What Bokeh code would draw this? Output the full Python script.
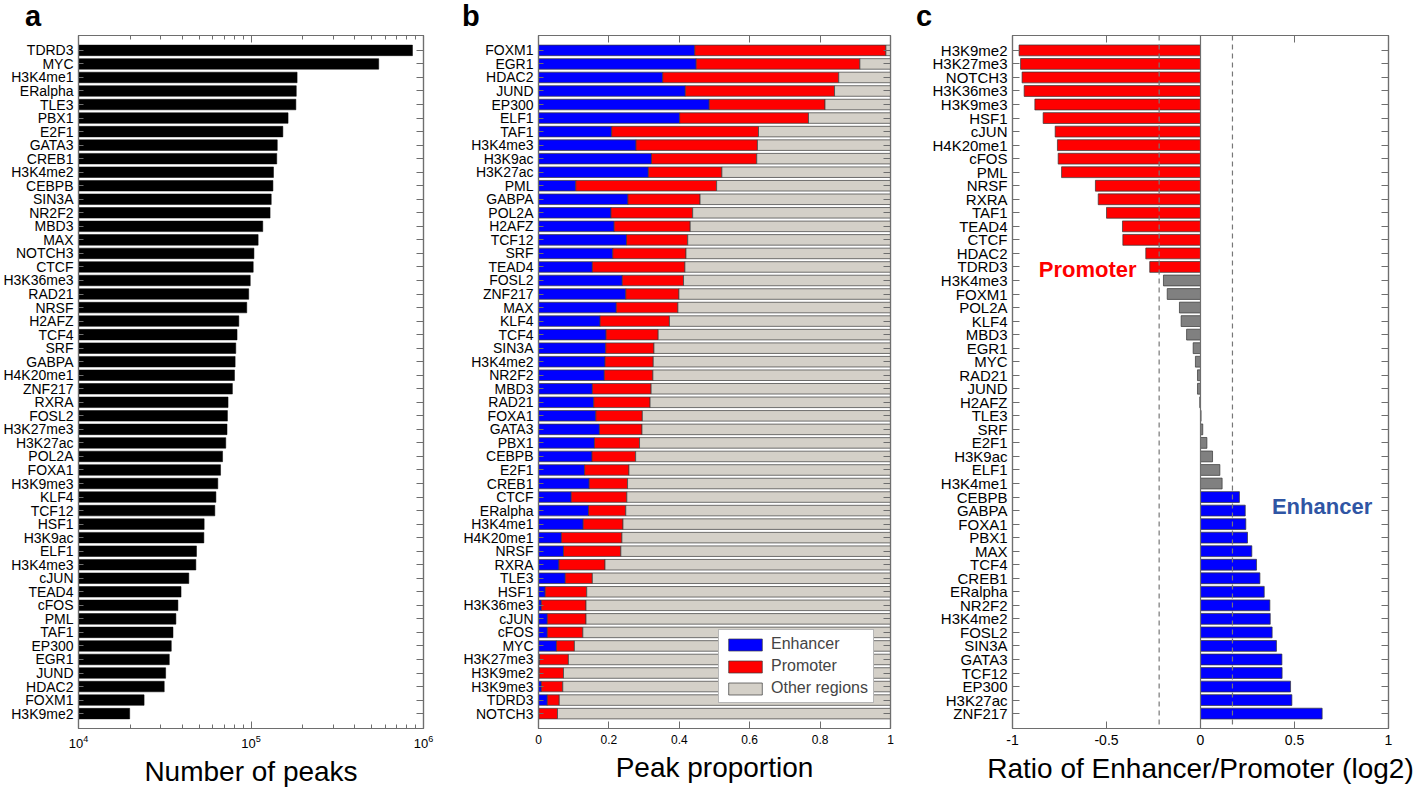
from bokeh.plotting import figure
from bokeh.layouts import row, column
from bokeh.models import (FactorRange, Range1d, FixedTicker, LogAxis, LinearAxis, Div,
                          CategoricalAxis, CustomJSTickFormatter, Span, ColumnDataSource)
from bokeh.core.properties import value
from bokeh.embed import file_html
from bokeh.resources import INLINE

FONT = "Liberation Sans"
FRAME = "#6e6e6e"

# ---------------- Panel a: number of peaks ----------------
names_a = ["TDRD3", "MYC", "H3K4me1", "ERalpha", "TLE3", "PBX1", "E2F1", "GATA3", "CREB1",
           "H3K4me2", "CEBPB", "SIN3A", "NR2F2", "MBD3", "MAX", "NOTCH3", "CTCF", "H3K36me3",
           "RAD21", "NRSF", "H2AFZ", "TCF4", "SRF", "GABPA", "H4K20me1", "ZNF217", "RXRA",
           "FOSL2", "H3K27me3", "H3K27ac", "POL2A", "FOXA1", "H3K9me3", "KLF4", "TCF12", "HSF1",
           "H3K9ac", "ELF1", "H3K4me3", "cJUN", "TEAD4", "cFOS", "PML", "TAF1", "EP300", "EGR1",
           "JUND", "HDAC2", "FOXM1", "H3K9me2"]
peaks_a = [863000, 550000, 185000, 183000, 182000, 164000, 153000, 142000, 141000,
           135000, 134000, 131000, 129000, 117000, 110000, 104000, 103000, 99000,
           97000, 94500, 85000, 83000, 81600, 80900, 80200, 78000, 73600,
           73000, 72600, 71400, 68400, 66600, 64200, 62600, 61700, 53500,
           53300, 48300, 47900, 43600, 39300, 37700, 36700, 35300, 34500, 33600,
           32000, 31400, 24000, 19800]
ticks_a = [1e4, 1e5, 1e6]

# ---------------- Panel b: peak proportion ----------------
names_b = ["FOXM1", "EGR1", "HDAC2", "JUND", "EP300", "ELF1", "TAF1", "H3K4me3", "H3K9ac",
           "H3K27ac", "PML", "GABPA", "POL2A", "H2AFZ", "TCF12", "SRF", "TEAD4", "FOSL2",
           "ZNF217", "MAX", "KLF4", "TCF4", "SIN3A", "H3K4me2", "NR2F2", "MBD3", "RAD21",
           "FOXA1", "GATA3", "PBX1", "CEBPB", "E2F1", "CREB1", "CTCF", "ERalpha", "H3K4me1",
           "H4K20me1", "NRSF", "RXRA", "TLE3", "HSF1", "H3K36me3", "cJUN", "cFOS", "MYC",
           "H3K27me3", "H3K9me2", "H3K9me3", "TDRD3", "NOTCH3"]
enhancer_b = [0.444, 0.448, 0.353, 0.417, 0.485, 0.401, 0.208, 0.277, 0.321,
              0.312, 0.106, 0.254, 0.206, 0.215, 0.250, 0.211, 0.153, 0.238,
              0.248, 0.221, 0.175, 0.192, 0.191, 0.189, 0.187, 0.153, 0.157,
              0.163, 0.173, 0.159, 0.152, 0.131, 0.144, 0.093, 0.142, 0.127,
              0.065, 0.071, 0.058, 0.076, 0.019, 0.008, 0.025, 0.025, 0.051,
              0.003, 0.002, 0.008, 0.025, 0.001]
promoter_b = [0.543, 0.465, 0.500, 0.424, 0.329, 0.366, 0.417, 0.345, 0.299,
              0.209, 0.400, 0.205, 0.232, 0.216, 0.174, 0.208, 0.263, 0.174,
              0.151, 0.175, 0.197, 0.148, 0.137, 0.137, 0.138, 0.167, 0.160,
              0.132, 0.121, 0.128, 0.124, 0.126, 0.109, 0.158, 0.106, 0.113,
              0.172, 0.163, 0.131, 0.077, 0.118, 0.127, 0.110, 0.101, 0.051,
              0.082, 0.069, 0.061, 0.034, 0.053]
legend_b = ["Enhancer", "Promoter", "Other regions"]
ticks_b = [0, 0.2, 0.4, 0.6, 0.8, 1]

# ---------------- Panel c: log2 ratio ----------------
names_c = ["H3K9me2", "H3K27me3", "NOTCH3", "H3K36me3", "H3K9me3", "HSF1", "cJUN", "H4K20me1",
           "cFOS", "PML", "NRSF", "RXRA", "TAF1", "TEAD4", "CTCF", "HDAC2", "TDRD3", "H3K4me3",
           "FOXM1", "POL2A", "KLF4", "MBD3", "EGR1", "MYC", "RAD21", "JUND", "H2AFZ", "TLE3",
           "SRF", "E2F1", "H3K9ac", "ELF1", "H3K4me1", "CEBPB", "GABPA", "FOXA1", "PBX1", "MAX",
           "TCF4", "CREB1", "ERalpha", "NR2F2", "H3K4me2", "FOSL2", "SIN3A", "GATA3", "TCF12",
           "EP300", "H3K27ac", "ZNF217"]
ratio_c = [-0.965, -0.957, -0.949, -0.938, -0.881, -0.837, -0.773, -0.761,
           -0.757, -0.739, -0.559, -0.544, -0.500, -0.415, -0.413, -0.291, -0.270, -0.197,
           -0.177, -0.112, -0.103, -0.074, -0.039, -0.027, -0.016, -0.016, -0.004, 0.003,
           0.012, 0.034, 0.064, 0.103, 0.115, 0.207, 0.238, 0.241, 0.250, 0.273,
           0.298, 0.316, 0.339, 0.369, 0.371, 0.381, 0.404, 0.433, 0.434,
           0.479, 0.486, 0.647]
thresholds_c = [-0.22, 0.17]
ticks_c = [-1, -0.5, 0, 0.5, 1]

panel_letters = ["a", "b", "c"]

PAD = 0.6          # category padding (units)
HEAD = 34          # strip above the figures holding the panel letters
H, TOP, BOTTOM = 796 - HEAD, 1, 68


def hide_labels(ax):
    ax.major_label_text_font_size = "0px"
    ax.major_label_text_color = None
    ax.major_label_standoff = 0


def style_axis(ax, tick_in=7):
    ax.axis_line_color = FRAME
    ax.axis_line_width = 1.2
    ax.major_tick_line_color = FRAME
    ax.minor_tick_line_color = FRAME
    ax.major_tick_in = tick_in
    ax.major_tick_out = 0
    ax.minor_tick_in = 4
    ax.minor_tick_out = 0
    ax.major_label_text_font = FONT
    ax.axis_label_text_font = FONT
    ax.axis_label_text_font_style = "normal"
    ax.axis_label_text_font_size = "28px"
    ax.axis_label_text_color = "black"
    ax.major_label_text_color = "black"


def base_fig(width, xr, names, left, right, x_type="linear"):
    p = figure(width=width, height=H, x_range=xr, x_axis_type=x_type,
               y_range=FactorRange(factors=names[::-1], range_padding=PAD,
                                   range_padding_units="absolute"),
               output_backend="svg", toolbar_location=None,
               min_border_left=left, min_border_right=right,
               min_border_top=TOP, min_border_bottom=BOTTOM)
    p.xgrid.visible = False
    p.ygrid.visible = False
    p.outline_line_color = FRAME
    p.outline_line_width = 1.2
    p.background_fill_color = "white"
    p.border_fill_color = "white"
    return p


def finish_axes(p, ticker, formatter, xlabel, log=False, ytick_left=7,
                tick_font="12px", cat_font="14px"):
    xa = p.xaxis[0]
    style_axis(xa)
    xa.ticker = ticker
    if formatter is not None:
        xa.formatter = formatter
    xa.major_label_text_font_size = tick_font
    xa.major_label_standoff = 6
    xa.axis_label = xlabel
    xa.axis_label_standoff = 5

    top = LogAxis(ticker=ticker) if log else LinearAxis(ticker=ticker)
    style_axis(top)
    hide_labels(top)
    p.add_layout(top, "above")

    ya = p.yaxis[0]
    style_axis(ya, tick_in=ytick_left)
    ya.major_label_text_font_size = cat_font
    ya.major_label_standoff = 5

    right = CategoricalAxis()
    style_axis(right)
    hide_labels(right)
    p.add_layout(right, "right")


# ----- a -----
pa = base_fig(460, Range1d(1e4, 1e6), names_a, 77, 37, x_type="log")
pa.hbar(y=names_a, left=1e4, right=peaks_a, height=0.78, fill_color="black",
        line_color="black", line_width=0.5)
minor_a = [m * t for t in ticks_a[:-1] for m in range(2, 10)]
finish_axes(pa, FixedTicker(ticks=ticks_a, minor_ticks=minor_a), None,
            "Number of peaks", log=True, ytick_left=5, tick_font="13px")

# ----- b -----
pb = base_fig(455, Range1d(0, 1), names_b, 77, 25)
other_b = [1 - e - p for e, p in zip(enhancer_b, promoter_b)]
src_b = ColumnDataSource(dict(name=names_b, enh=enhancer_b, prom=promoter_b, oth=other_b))
pb.hbar_stack(["enh", "prom", "oth"], y="name", height=0.78, source=src_b,
              fill_color=["#0000FF", "#FF0000", "#D4D0C8"], line_color="#3a3a3a",
              line_width=0.7, legend_label=legend_b)
fmt = CustomJSTickFormatter(code="return String(parseFloat(tick.toFixed(2)));")
finish_axes(pb, FixedTicker(ticks=ticks_b), fmt, "Peak proportion", ytick_left=5)
lg = pb.legend[0]
lg.location = (180, 25)
lg.label_text_font = FONT
lg.label_text_font_size = "16px"
lg.glyph_width = 42
lg.glyph_height = 15
lg.label_height = 15
lg.spacing = 4
lg.padding = 5
lg.margin = 0
lg.label_standoff = 5
lg.border_line_color = FRAME
lg.border_line_width = 1.2
lg.background_fill_color = "white"
lg.background_fill_alpha = 1.0

# ----- c -----
pc = base_fig(501, Range1d(-1, 1), names_c, 97, 28)
colors_c = ["#FF0000" if v < thresholds_c[0] else "#0000FF" if v > thresholds_c[1] else "#808080"
            for v in ratio_c]
pc.hbar(y=names_c, left=0, right=ratio_c, height=0.8, fill_color=colors_c,
        line_color="#333333", line_width=0.7)
for t in thresholds_c:
    pc.add_layout(Span(location=t, dimension="height", line_color="#777777",
                       line_width=1.2, line_dash="5 4"))
pc.add_layout(Span(location=0, dimension="height", line_color=FRAME, line_width=1.2))
finish_axes(pc, FixedTicker(ticks=ticks_c), fmt, "Ratio of Enhancer/Promoter (log2)",
            tick_font="14px", cat_font="15px")
pc.xaxis[0].axis_label_text_font_size = "27px"
pc.text(x=[-0.86], y=["TDRD3"], text=["Promoter"], text_font=value(FONT),
        text_font_style="bold", text_font_size="22px", text_color="#FF0000",
        text_baseline="middle", y_offset=3)
pc.text(x=[0.38], y=["GABPA"], text=["Enhancer"], text_font=value(FONT),
        text_font_style="bold", text_font_size="22px", text_color="#2F55A4",
        text_baseline="middle", y_offset=-4)

# ----- panel letters (a strip above the three figures) -----
letter_x = [25, 462, 916]
spans = "".join(
    f'<span style="position:absolute;left:{x}px;top:0px;line-height:normal;'
    f'font-family:\'{FONT}\';font-weight:bold;font-size:29px;color:black;">{t}</span>'
    for t, x in zip(panel_letters, letter_x))
head = Div(text=f'<div style="position:relative;width:1416px;height:{HEAD}px;">{spans}</div>',
           width=1416, height=HEAD, margin=0)

layout = column(head, row(pa, pb, pc, spacing=0), spacing=0)
open("out.html", "w").write(file_html(layout, INLINE))
